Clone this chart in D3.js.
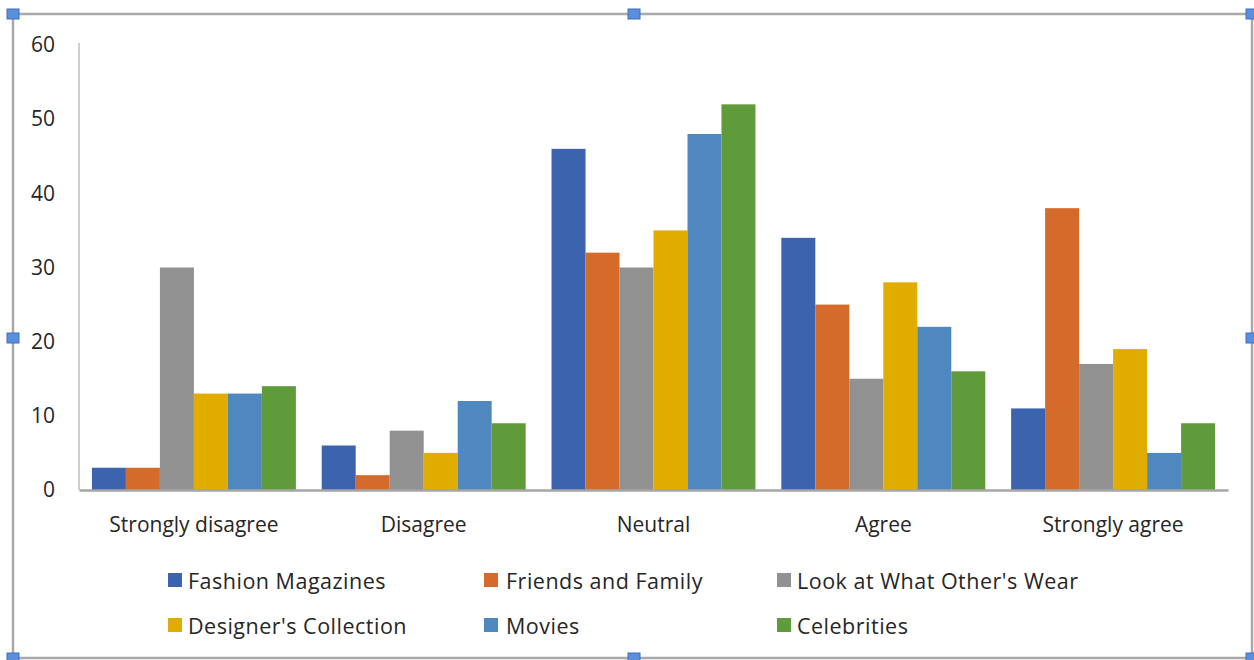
<!DOCTYPE html>
<html>
<head>
<meta charset="utf-8">
<script src="https://cdn.jsdelivr.net/npm/d3@7/dist/d3.min.js"></script>
<style>
  html, body { margin: 0; padding: 0; background: #fff; }
  svg { display: block; }
  text { font-family: "Open Sans", "Noto Sans", sans-serif; fill: #262626; }
</style>
</head>
<body>
<svg id="chart" width="1254" height="660"></svg>
<script>
// Response categories (x axis)
const categories = ["Strongly disagree", "Disagree", "Neutral", "Agree", "Strongly agree"];

// Influence sources (series)
const seriesNames = ["Fashion Magazines", "Friends and Family", "Look at What Other's Wear",
                     "Designer's Collection", "Movies", "Celebrities"];

// Counts per category for each series
const fashionMagazines = [3, 6, 46, 34, 11];
const friendsFamily    = [3, 2, 32, 25, 38];
const lookAtOthers     = [30, 8, 30, 15, 17];
const designers        = [13, 5, 35, 28, 19];
const movies           = [13, 12, 48, 22, 5];
const celebrities      = [14, 9, 52, 16, 9];

const yTicks = [0, 10, 20, 30, 40, 50, 60];

const seriesValues = [fashionMagazines, friendsFamily, lookAtOthers, designers, movies, celebrities];
const colors = ["#3c63ad", "#d56b2b", "#919191", "#e1ac00", "#4f88bf", "#609b3b"];

const FONT = '"Open Sans", "Noto Sans", sans-serif';
const FS = 21;

const svg = d3.select("#chart");

// Chart frame with selection handles
svg.append("rect")
  .attr("x", 13).attr("y", 14).attr("width", 1239).attr("height", 644)
  .attr("fill", "#fff").attr("stroke", "#a9a9a9").attr("stroke-width", 2.5);

const plot = { left: 79, right: 1228, top: 45, bottom: 490 };

const x0 = d3.scaleBand().domain(categories).range([plot.left, plot.right]).paddingInner(0).paddingOuter(0);
const x1 = d3.scaleBand().domain(d3.range(seriesNames.length))
  .range([0, x0.bandwidth()]).paddingInner(0).paddingOuter(0.38);
const y = d3.scaleLinear().domain([0, 60]).range([plot.bottom, plot.top]);

// Y axis
const yAxis = d3.axisLeft(y).tickValues(yTicks).tickSize(0).tickPadding(24);
const gy = svg.append("g").attr("transform", `translate(${plot.left},0)`).call(yAxis);
gy.select(".domain").attr("stroke", "#bfbfbf").attr("stroke-width", 1.5)
  .attr("d", `M0,${y(60) - 2}V${plot.bottom}`);
gy.selectAll("text").attr("font-size", FS).attr("fill", "#262626").style("font-family", FONT);

// Bars
const groups = svg.append("g").selectAll("g")
  .data(categories)
  .join("g")
  .attr("transform", d => `translate(${x0(d)},0)`);

groups.selectAll("rect")
  .data((c, ci) => seriesValues.map((vals, si) => ({ si, v: vals[ci] })))
  .join("rect")
  .attr("x", d => x1(d.si))
  .attr("width", x1.bandwidth())
  .attr("y", d => y(d.v))
  .attr("height", d => y(0) - y(d.v))
  .attr("fill", d => colors[d.si]);

// X axis
const xAxis = d3.axisBottom(x0).tickSize(0).tickPadding(27);
const gx = svg.append("g").attr("transform", `translate(0,${plot.bottom})`).call(xAxis);
gx.select(".domain").attr("stroke", "#a6a6a6").attr("stroke-width", 2.5);
gx.selectAll("text").attr("font-size", FS).attr("fill", "#262626").style("font-family", FONT);

// Legend: two rows of three
const legendCols = [168, 484, 777];
const legendRows = [581, 626];
const legend = svg.append("g").selectAll("g")
  .data(seriesNames)
  .join("g")
  .attr("transform", (d, i) => `translate(${legendCols[i % 3]},${legendRows[Math.floor(i / 3)]})`);
legend.append("rect")
  .attr("x", 0).attr("y", -8).attr("width", 14).attr("height", 14)
  .attr("fill", (d, i) => colors[i]);
legend.append("text")
  .attr("x", (d, i) => (i % 3 === 1 ? 22 : 20))
  .attr("y", 0).attr("dy", "0.35em")
  .attr("font-size", 21.5)
  .attr("letter-spacing", 0.5)
  .text(d => d);

// Selection handles on the frame
const handles = [[13, 14], [634, 14], [1252, 14], [13, 338], [1252, 338], [13, 658], [634, 658], [1252, 658]];
svg.append("g").selectAll("rect")
  .data(handles)
  .join("rect")
  .attr("x", d => d[0] - 6).attr("y", d => d[1] - 5)
  .attr("width", 12).attr("height", 10)
  .attr("fill", "#5b8fdc").attr("stroke", "#3d6fc0").attr("stroke-width", 1);
</script>
</body>
</html>
